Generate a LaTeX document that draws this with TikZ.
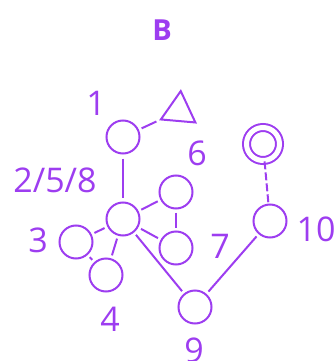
\documentclass[tikz,border=0pt]{standalone}
\usepackage{fontspec}
\setmainfont{Open Sans}
\usetikzlibrary{shapes.geometric}
\definecolor{violetline}{RGB}{157,61,240}

\begin{document}
\begin{tikzpicture}[x=1pt,y=-1pt,
    vert/.style={draw=violetline,line width=2pt,circle,minimum size=33pt,inner sep=0pt},
    lbl/.style={text=violetline,font=\fontsize{34}{34}\selectfont,inner sep=0pt},
    edge/.style={draw=violetline,line width=2pt,shorten <=3pt,shorten >=3pt}
]
    \useasboundingbox (0,0) rectangle (334,361);
    \node[text=violetline,font=\fontsize{29}{29}\selectfont\bfseries,inner sep=0pt] (title) at (162,30) {B};

    \node[vert] (v1) at (123,137) {};
    \node[vert] (v258) at (123,219) {};
    \node[vert] (v3) at (76,242) {};
    \node[vert] (v4) at (106,275) {};
    \node[vert] (v6) at (176,192) {};
    \node[vert] (v7) at (176,248) {};
    \node[vert] (v9) at (195,307) {};
    \node[vert] (v10) at (270,221) {};
    \node[vert,double=white,double distance=5pt] (vacc) at (263,144) {};
    \node[draw=violetline,line width=2pt,regular polygon,regular polygon sides=3,
          minimum size=40pt,inner sep=0pt,shape border rotate=-5] (start) at (179,111) {};

    \node[lbl] (l1) at (96,103) {1};
    \node[lbl] (l258) at (55,180) {2/5/8};
    \node[lbl] (l3) at (38,240) {3};
    \node[lbl] (l4) at (110,319) {4};
    \node[lbl] (l6) at (197,153) {6};
    \node[lbl] (l7) at (220,246) {7};
    \node[lbl] (l9) at (194,350) {9};
    \node[lbl] (l10) at (316,229) {10};

    \draw[edge] (v1) -- (start);
    \draw[edge,shorten <=4pt,shorten >=4pt] (v1) -- (v258);
    \draw[edge] (v258) -- (v6);
    \draw[edge] (v258) -- (v7);
    \draw[edge] (v6) -- (v7);
    \draw[edge] (v258) -- (v3);
    \draw[edge] (v258) -- (v4);
    \draw[edge] (v3) -- (v4);
    \draw[edge] (v258) -- (v9);
    \draw[edge] (v9) -- (v10);
    \draw[edge,dash pattern=on 8pt off 3pt,shorten <=0pt,shorten >=0pt] (vacc) -- (v10);
\end{tikzpicture}
\end{document}
